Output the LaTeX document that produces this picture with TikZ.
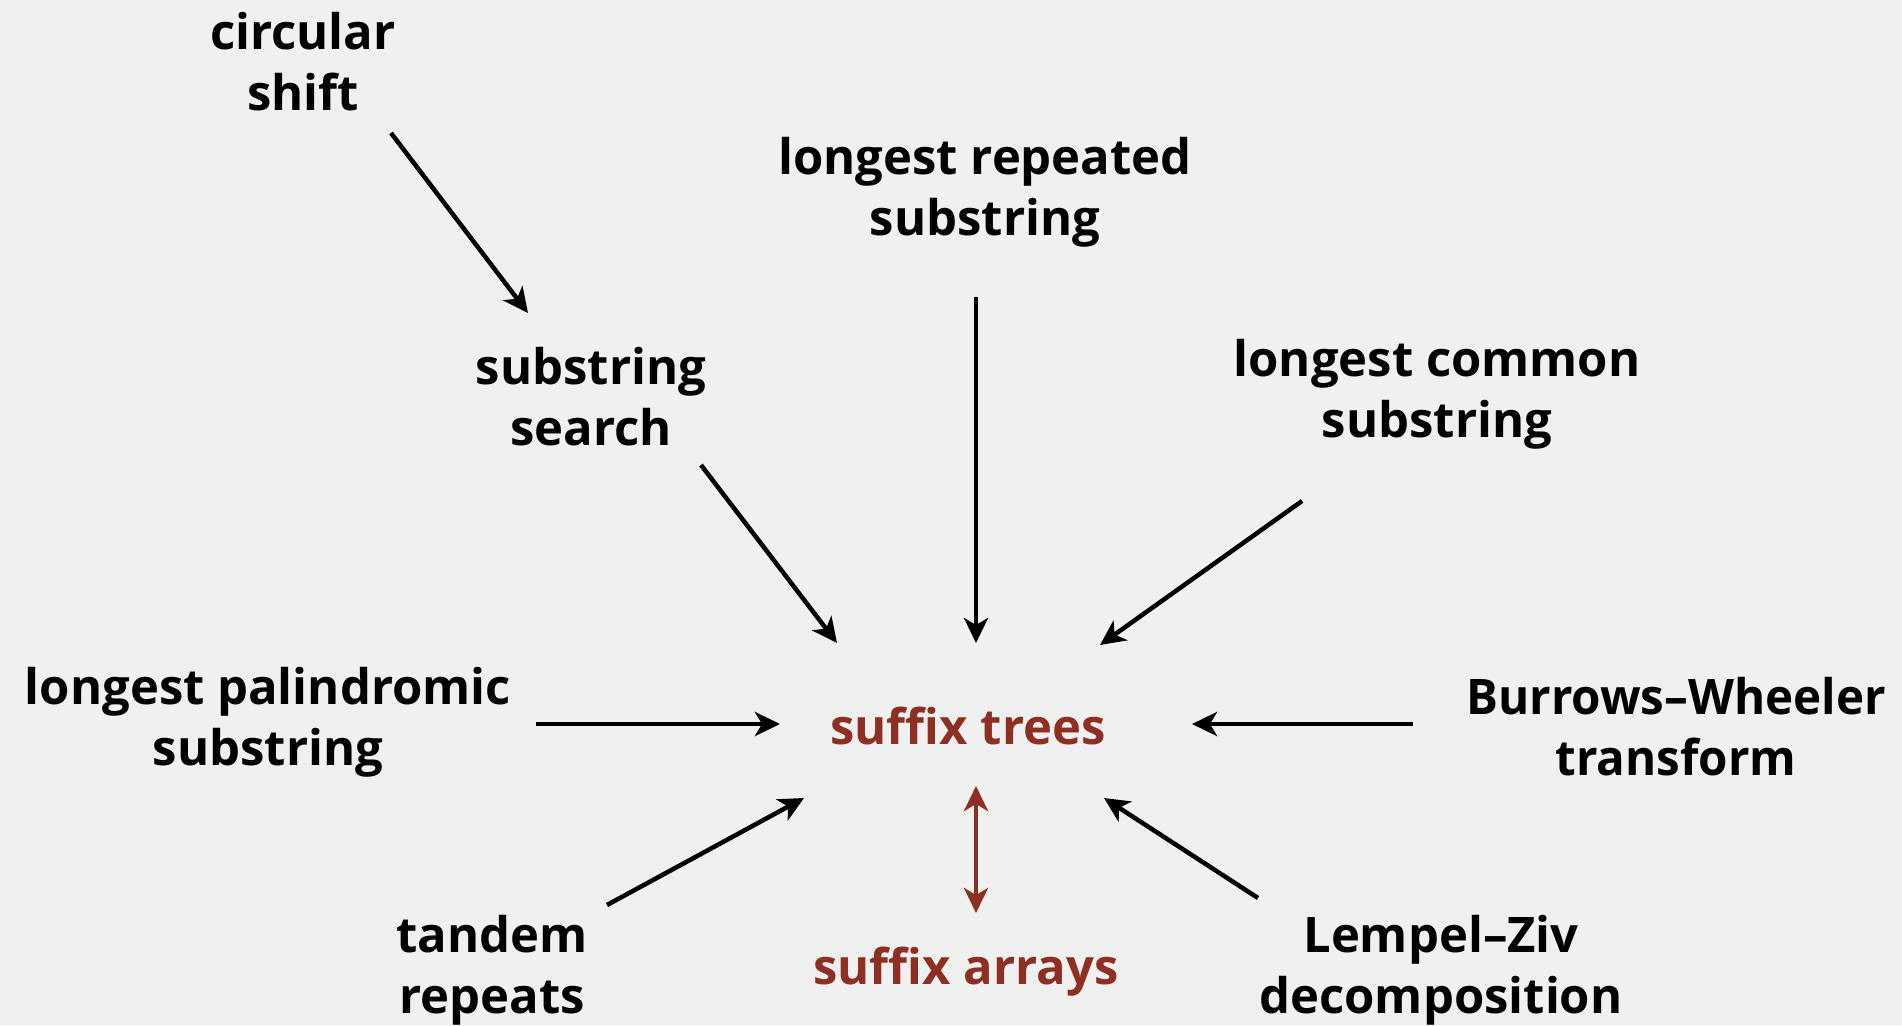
\documentclass[tikz,border=0pt]{standalone}
\usepackage{fontspec}
\usepackage{graphicx}
\setmainfont{Open Sans}
\usetikzlibrary{arrows.meta}
\definecolor{bgc}{HTML}{F0F0F0}
\definecolor{sred}{HTML}{8E2F23}
\tikzset{
  lbl/.style={align=center, font=\fontsize{49}{61}\selectfont\bfseries, inner sep=0pt, text=black},
  rlbl/.style={lbl, text=sred},
  arr/.style={line width=4.5pt, -{Stealth[length=25pt,width=24pt,inset=7pt]}},
  rarr/.style={line width=4.5pt, draw=sred, {Stealth[length=25pt,width=24pt,inset=7pt]}-{Stealth[length=25pt,width=24pt,inset=7pt]}}
}
\begin{document}
\begin{tikzpicture}[x=1pt,y=-1pt]
\fill[bgc] (0,0) rectangle (1902,1025);
\useasboundingbox (0,0) rectangle (1902,1025);
\node[lbl] (cs) at (303,62) {circular\\shift};
\node[lbl] (lrs) at (985,192) {longest repeated\\substring};
\node[lbl] (ss) at (591,397) {substring\\search};
\node[lbl] (lcs) at (1437,394) {longest common\\substring};
\node[lbl] (lps) at (268,722) {longest palindromic\\substring};
\node[rlbl] (st) at (968,726) {suffix trees};
\node[lbl] (bw) at (1676,727) {\scalebox{0.97}[1]{Burrows–Wheeler}\\\scalebox{0.97}[1]{transform}};
\node[lbl] (td) at (492,970) {tandem\\repeats};
\node[rlbl] (sa) at (966,972) {suffix arrays};
\node[lbl] (lz) at (1441,970) {Lempel–Ziv\\decomposition};
\coordinate (a1) at (391,133); \coordinate (b1) at (528,313);
\coordinate (a2) at (976,297); \coordinate (b2) at (976,643);
\coordinate (a3) at (701,465); \coordinate (b3) at (837,643);
\coordinate (a4) at (1302,501); \coordinate (b4) at (1100,645);
\coordinate (a5) at (536,724); \coordinate (b5) at (780,724);
\coordinate (a6) at (1413,724); \coordinate (b6) at (1192,724);
\coordinate (a7) at (607,905); \coordinate (b7) at (804,798);
\coordinate (a8) at (1258,898); \coordinate (b8) at (1104,798);
\coordinate (a9) at (976,786); \coordinate (b9) at (976,913);
\draw[arr] (a1) -- (b1);
\draw[arr] (a2) -- (b2);
\draw[arr] (a3) -- (b3);
\draw[arr] (a4) -- (b4);
\draw[arr] (a5) -- (b5);
\draw[arr] (a6) -- (b6);
\draw[arr] (a7) -- (b7);
\draw[arr] (a8) -- (b8);
\draw[rarr] (a9) -- (b9);
\end{tikzpicture}
\end{document}
